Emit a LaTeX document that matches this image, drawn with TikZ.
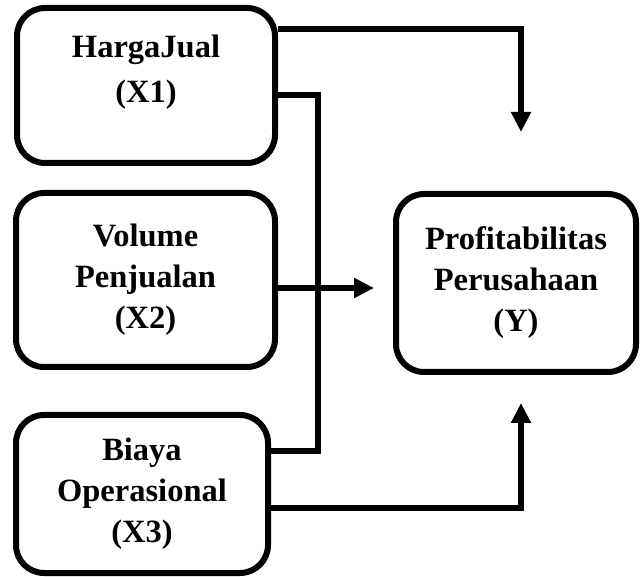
\documentclass[tikz,border=0pt]{standalone}
\usepackage{fontspec}
\setmainfont{Liberation Serif}
\usetikzlibrary{arrows.meta}

\begin{document}
\begin{tikzpicture}[x=0.5pt, y=-0.5pt,
    varbox/.style={rectangle, rounded corners=14pt, draw=black, line width=3pt, align=center,
      font=\fontsize{16.25}{20.5}\selectfont\bfseries},
    link/.style={line width=2.8pt, black},
    arr/.style={link, -{Triangle[length=10pt, width=9.5pt]}}
  ]
    \useasboundingbox (0,0) rectangle (643,577);

    \node[varbox, minimum width=129pt, minimum height=77.5pt] (x1) at (146,85.5) {HargaJual\\[2pt](X1)\\[-4pt]\mbox{}};
    \node[varbox, minimum width=129.5pt, minimum height=87pt] (x2) at (145.5,280) {Volume\\Penjualan\\(X2)};
    \node[varbox, minimum width=126pt, minimum height=79pt]   (x3) at (142,494) {Biaya\\Operasional\\(X3)};
    \node[varbox, minimum width=120pt, minimum height=89pt]   (y)  at (516,283) {Profitabilitas\\Perusahaan\\(Y)};

    % free ends and bend of the connectors
    \coordinate (ytop) at (521,132);
    \coordinate (ybot) at (521,403);
    \coordinate (bend) at (318,451);

    \draw[arr]  (x1.east |- 0,29) -| (ytop);
    \draw[link] (x1.east |- 0,95) -| (bend) -- (x3.east |- bend);
    \draw[arr, shorten >=9.5pt] (x2.east |- 0,288) -- (y.west |- 0,288);
    \draw[arr]  (x3.east |- 0,508) -| (ybot);
\end{tikzpicture}
\end{document}
